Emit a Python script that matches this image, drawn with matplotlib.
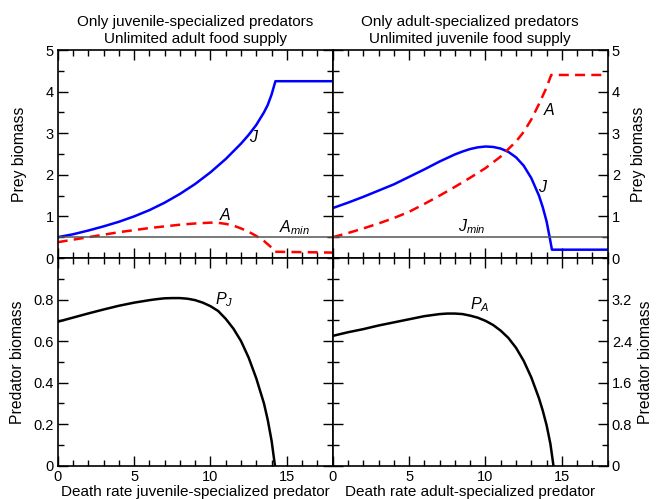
import matplotlib.pyplot as plt
from matplotlib.ticker import MultipleLocator, FixedLocator

plt.rcParams['font.family'] = ['Liberation Sans', 'DejaVu Sans']
plt.rcParams['mathtext.fontset'] = 'custom'
plt.rcParams['mathtext.it'] = 'Liberation Sans:italic'
plt.rcParams['mathtext.rm'] = 'Liberation Sans'

# Left column: only juvenile-specialized predators
jl_x = [0, 1, 2, 3, 4, 5, 6, 7, 8, 9, 10, 11, 12, 12.5, 13, 13.5, 13.75, 14, 14.25, 18]
jl_J = [0.5, 0.57, 0.66, 0.76, 0.87, 1.0, 1.15, 1.33, 1.54, 1.78, 2.06, 2.38, 2.75, 2.96, 3.2, 3.5,
        3.68, 3.93, 4.25, 4.25]
al_x = [0, 1, 2, 3, 4, 5, 6, 7, 8, 9, 9.5, 10, 10.5, 11, 11.5, 12, 12.5, 13, 13.5, 14, 14.2, 18]
al_A = [0.38, 0.44, 0.5, 0.56, 0.62, 0.67, 0.72, 0.76, 0.8, 0.83, 0.84, 0.85, 0.845, 0.82, 0.78, 0.71,
        0.63, 0.53, 0.41, 0.25, 0.15, 0.13]
pj_x = [0, 1, 2, 3, 4, 5, 6, 6.5, 7, 7.5, 8, 8.5, 9, 9.5, 10, 10.5, 11, 11.5, 12, 12.5, 13, 13.5,
        13.75, 14, 14.22]
pj = [0.693, 0.713, 0.733, 0.752, 0.770, 0.785, 0.797, 0.802, 0.806, 0.807, 0.807, 0.804, 0.797, 0.785,
      0.768, 0.745, 0.707, 0.66, 0.6, 0.52, 0.42, 0.3, 0.22, 0.12, 0.0]

# Right column: only adult-specialized predators
jr_x = [0, 1, 2, 3, 4, 5, 6, 7, 8, 8.5, 9, 9.5, 10, 10.5, 11, 11.5, 12, 12.5, 13, 13.5, 13.75, 14,
        14.2, 14.35, 18]
jr_J = [1.2, 1.33, 1.47, 1.62, 1.77, 1.95, 2.13, 2.32, 2.49, 2.56, 2.62, 2.66, 2.68, 2.67, 2.63, 2.55,
        2.42, 2.22, 1.92, 1.5, 1.22, 0.88, 0.5, 0.2, 0.2]
ar_x = [0, 1, 2, 3, 4, 5, 6, 7, 8, 9, 10, 11, 12, 12.5, 13, 13.5, 14, 14.3, 18]
ar_A = [0.5, 0.6, 0.71, 0.83, 0.96, 1.11, 1.3, 1.5, 1.71, 1.93, 2.16, 2.44, 2.8, 3.03, 3.33, 3.7, 4.1,
        4.4, 4.4]
pa_x = [0, 1, 2, 3, 4, 5, 6, 6.5, 7, 7.5, 8, 8.5, 9, 9.5, 10, 10.5, 11, 11.5, 12, 12.5, 13, 13.5,
        13.75, 14, 14.25, 14.45]
pa = [2.5, 2.57, 2.63, 2.7, 2.76, 2.82, 2.88, 2.9, 2.92, 2.93, 2.93, 2.92, 2.89, 2.85, 2.79, 2.71, 2.6,
      2.46, 2.27, 2.02, 1.7, 1.3, 1.06, 0.78, 0.42, 0.0]

min_level = 0.5

fig = plt.figure(figsize=(6.56, 4.99), dpi=100)
W, H = 656, 499
x0, xm, x1 = 57.7, 332.7, 607.7
yt, ym, yb = 50, 258, 465.7

def add(l, r, t, b):
    return fig.add_axes([l / W, 1 - b / H, (r - l) / W, (b - t) / H])

ax_tl = add(x0, xm, yt, ym)
ax_tr = add(xm, x1, yt, ym)
ax_bl = add(x0, xm, ym, yb)
ax_br = add(xm, x1, ym, yb)

blue = '#0000ff'
red = '#ff0000'
lw = 1.8
lab_fs = 11.3
xlab_fs = 11
title_fs = 11

def style(ax):
    ax.set_xlim(0, 18)
    ax.xaxis.set_major_locator(MultipleLocator(5))
    ax.xaxis.set_minor_locator(MultipleLocator(1))
    ax.tick_params(which='both', direction='in', top=True, bottom=True, left=True, right=True,
                   labelsize=10.5)
    ax.tick_params(axis='x', pad=3)
    ax.tick_params(axis='y', pad=3)
    ax.tick_params(which='major', length=7, width=1)
    ax.tick_params(which='minor', length=4, width=1)
    for s in ax.spines.values():
        s.set_linewidth(1.2)

for ax in (ax_tl, ax_tr, ax_bl, ax_br):
    style(ax)

# Top left
ax_tl.plot(jl_x, jl_J, color=blue, lw=lw)
ax_tl.plot(al_x, al_A, color=red, lw=lw, dashes=(4, 2.5))
ax_tl.axhline(min_level, color='#555555', lw=1.1)
ax_tl.set_ylim(0, 5)
ax_tl.yaxis.set_major_locator(MultipleLocator(1))
ax_tl.yaxis.set_minor_locator(MultipleLocator(0.5))
ax_tl.tick_params(labelbottom=False)
ax_tl.set_ylabel('Prey biomass', fontsize=lab_fs, labelpad=13)
ax_tl.set_title('Only juvenile-specialized predators\nUnlimited adult food supply', fontsize=title_fs,
                pad=5, linespacing=1.3)
ax_tl.text(12.85, 2.9, '$J$', fontsize=11.5, ha='center', va='center')
ax_tl.text(11.0, 1.03, '$A$', fontsize=11.5, ha='center', va='center')
ax_tl.text(15.5, 0.72, '$A_{min}$', fontsize=11.5, ha='center', va='center')

# Top right
ax_tr.plot(jr_x, jr_J, color=blue, lw=lw)
ax_tr.plot(ar_x, ar_A, color=red, lw=lw, dashes=(4, 2.5))
ax_tr.axhline(min_level, color='#555555', lw=1.1)
ax_tr.set_ylim(0, 5)
ax_tr.yaxis.set_major_locator(MultipleLocator(1))
ax_tr.yaxis.set_minor_locator(MultipleLocator(0.5))
ax_tr.tick_params(labelbottom=False, labelleft=False, labelright=True)
ax_tr.yaxis.set_label_position('right')
ax_tr.set_ylabel('Prey biomass', fontsize=lab_fs, labelpad=8)
ax_tr.set_title('Only adult-specialized predators\nUnlimited juvenile food supply', fontsize=title_fs,
                pad=5, linespacing=1.3)
ax_tr.text(14.2, 3.55, '$A$', fontsize=11.5, ha='center', va='center')
ax_tr.text(13.75, 1.7, '$J$', fontsize=11.5, ha='center', va='center')
ax_tr.text(9.1, 0.75, '$J_{min}$', fontsize=11.5, ha='center', va='center')

# Bottom left
ax_bl.plot(pj_x, pj, color='black', lw=lw)
ax_bl.set_ylim(0, 1)
ax_bl.yaxis.set_major_locator(FixedLocator([0, 0.2, 0.4, 0.6, 0.8]))
ax_bl.yaxis.set_minor_locator(MultipleLocator(0.1))
ax_bl.set_yticklabels(['0', '0.2', '0.4', '0.6', '0.8'])
ax_bl.set_ylabel('Predator biomass', fontsize=lab_fs, labelpad=6)
ax_bl.set_xlabel('Death rate juvenile-specialized predator', fontsize=xlab_fs)
ax_bl.xaxis.set_label_coords(0.5, -0.093)
ax_bl.text(10.9, 0.8, '$P_J$', fontsize=11.5, ha='center', va='center')

# Bottom right
ax_br.plot(pa_x, pa, color='black', lw=lw)
ax_br.set_ylim(0, 4)
ax_br.yaxis.set_major_locator(FixedLocator([0, 0.8, 1.6, 2.4, 3.2]))
ax_br.yaxis.set_minor_locator(MultipleLocator(0.4))
ax_br.set_yticklabels(['0', '0.8', '1.6', '2.4', '3.2'])
ax_br.tick_params(labelleft=False, labelright=True)
ax_br.yaxis.set_label_position('right')
ax_br.set_ylabel('Predator biomass', fontsize=lab_fs, labelpad=4)
ax_br.set_xlabel('Death rate adult-specialized predator', fontsize=xlab_fs)
ax_br.xaxis.set_label_coords(0.5, -0.093)
ax_br.text(9.6, 3.1, '$P_A$', fontsize=11.5, ha='center', va='center')

fig.savefig('out.png', dpi=100)
